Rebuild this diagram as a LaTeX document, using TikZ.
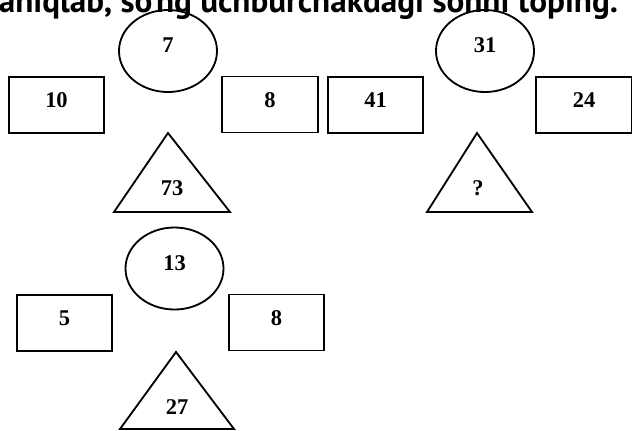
\documentclass[tikz,border=0pt]{standalone}
\usepackage{fontspec}
\setmainfont{Liberation Serif}
\newfontfamily\headfont{PT Sans}
\usetikzlibrary{%
    shapes.geometric,
    positioning
}
\tikzset{numbox/.style = {draw, rectangle, minimum width=2.38cm, minimum height=1.4cm,
    inner sep=0pt, text height=.375cm, text depth=.25cm}}
\tikzset{numoval/.style = {draw, ellipse, minimum width=2.45cm, minimum height=2.05cm,
    inner sep=0pt, text height=.375cm, text depth=.3cm}}
\tikzset{numtri/.style = {inner sep=0pt}}

\begin{document}
\begin{tikzpicture}[x=0.025cm, y=-0.025cm, line width=1.3pt,
    font=\bfseries\fontsize{16}{18}\selectfont]
    \clip (0,0) rectangle (632,430);
    \node (head) [anchor=base west, inner sep=0pt,
        font=\headfont\bfseries\fontsize{23.6}{26}\selectfont] at (-2,12)
        {aniqlab, so'ng uchburchakdagi sonni toping.};

    % first group
    \node (o1) [numoval] at (168,51) {7};
    \node (l1) [numbox] at (56.5,105) {10};
    \node (r1) [numbox] at (270,104.5) {8};
    \node (t1) [numtri] at (172,188) {73};
    \draw (168,133) -- (230,212) -- (114,212) -- cycle;

    % second group
    \node (o2) [numoval] at (485,51) {31};
    \node (l2) [numbox] at (375.5,105) {41};
    \node (r2) [numbox] at (584,105) {24};
    \node (t2) [numtri] at (478,188) {?};
    \draw (477,133) -- (532,212) -- (427,212) -- cycle;

    % third group
    \node (o3) [numoval] at (174.5,268.5) {13};
    \node (l3) [numbox] at (64.5,323) {5};
    \node (r3) [numbox] at (276.5,322.5) {8};
    \node (t3) [numtri] at (177,407) {27};
    \draw (176,352) -- (234,429) -- (120,429) -- cycle;
\end{tikzpicture}
\end{document}
